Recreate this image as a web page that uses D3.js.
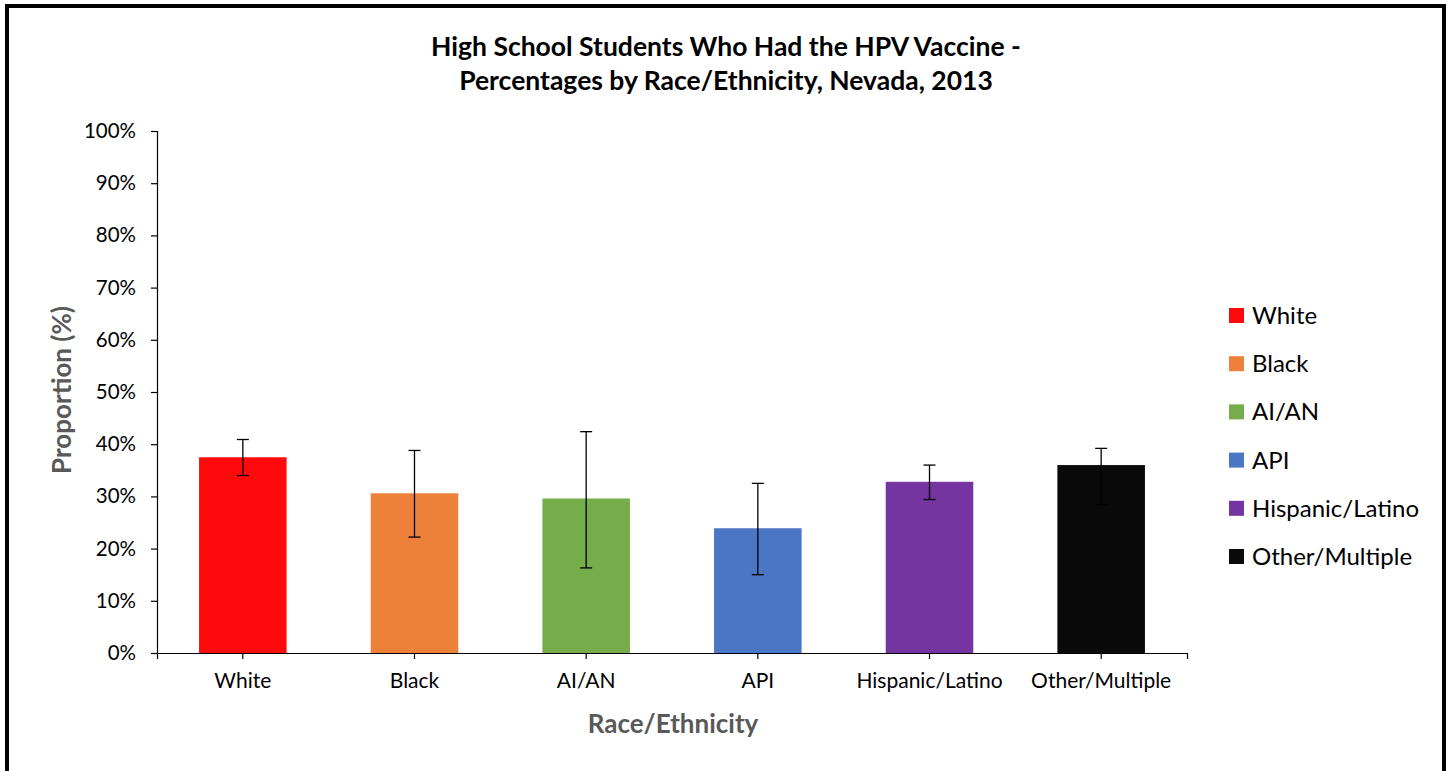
<!DOCTYPE html>
<html>
<head>
<meta charset="utf-8">
<script src="https://cdn.jsdelivr.net/npm/d3@7"></script>
<style>
  body { margin: 0; background: #fff; }
  svg { display: block; font-family: Lato, "Open Sans", sans-serif; }
</style>
</head>
<body>
<script>
// values
var categories = ["White", "Black", "AI/AN", "API", "Hispanic/Latino", "Other/Multiple"];
var values = [37.5, 30.6, 29.6, 23.9, 32.8, 36.0];
var lower = [34.0, 22.2, 16.3, 15.0, 29.4, 28.4];
var upper = [40.9, 38.8, 42.4, 32.5, 36.0, 39.2];
var colors = ["#ff0a0a", "#ed8139", "#76ad4a", "#4a76c4", "#7535a0", "#0a0a0a"];
var yTicks = [0, 10, 20, 30, 40, 50, 60, 70, 80, 90, 100];

var W = 1453, H = 771;
var svg = d3.select("body").append("svg")
  .attr("width", W)
  .attr("height", H);

// outer frame
svg.append("rect")
  .attr("x", 7).attr("y", 6)
  .attr("width", 1437).attr("height", 790)
  .attr("fill", "#fff")
  .attr("stroke", "#000")
  .attr("stroke-width", 4);

var x = d3.scaleBand()
  .domain(categories)
  .range([157, 1187])
  .paddingInner(0.49)
  .paddingOuter(0.245);

var y = d3.scaleLinear()
  .domain([0, 100])
  .range([653, 131]);

// title
svg.append("text")
  .attr("x", 726).attr("y", 56)
  .attr("text-anchor", "middle")
  .attr("font-size", 26.5).attr("font-weight", "bold")
  .text("High School Students Who Had the HPV Vaccine -");
svg.append("text")
  .attr("x", 726).attr("y", 90)
  .attr("text-anchor", "middle")
  .attr("font-size", 26.5).attr("font-weight", "bold")
  .text("Percentages by Race/Ethnicity, Nevada, 2013");

// bars
svg.append("g")
  .selectAll("rect")
  .data(categories)
  .enter()
  .append("rect")
  .attr("x", function(d) { return x(d); })
  .attr("y", function(d, i) { return y(values[i]); })
  .attr("width", x.bandwidth())
  .attr("height", function(d, i) { return y(0) - y(values[i]); })
  .attr("fill", function(d, i) { return colors[i]; });

// error bars
var err = svg.append("g")
  .attr("stroke", "#000")
  .attr("stroke-width", 1.3);
categories.forEach(function(d, i) {
  var cx = x(d) + x.bandwidth() / 2;
  err.append("line")
    .attr("x1", cx).attr("x2", cx)
    .attr("y1", y(lower[i])).attr("y2", y(upper[i]));
  [lower[i], upper[i]].forEach(function(v) {
    err.append("line")
      .attr("x1", cx - 6).attr("x2", cx + 6)
      .attr("y1", y(v)).attr("y2", y(v));
  });
});

// y axis
var yAxis = svg.append("g")
  .attr("transform", "translate(157,0)")
  .call(d3.axisLeft(y).tickValues(yTicks).tickSize(6).tickPadding(15)
    .tickFormat(function(d) { return d + "%"; }));
yAxis.selectAll("text").attr("font-size", 20.5).attr("fill", "#000")
  .attr("font-family", "Lato, 'Open Sans', sans-serif");
yAxis.selectAll("line, path").attr("stroke", "#000").attr("stroke-width", 1.2);

// x axis
var xAxis = svg.append("g")
  .attr("transform", "translate(0,653)")
  .call(d3.axisBottom(x).tickSize(6).tickPadding(14).tickSizeOuter(6));
xAxis.selectAll("text").attr("font-size", 21).attr("fill", "#000")
  .attr("font-family", "Lato, 'Open Sans', sans-serif");
xAxis.selectAll("line, path").attr("stroke", "#000").attr("stroke-width", 1.2);

// axis titles
svg.append("text")
  .attr("transform", "translate(71,390) rotate(-90)")
  .attr("text-anchor", "middle")
  .attr("font-size", 26).attr("font-weight", "bold")
  .attr("fill", "#595959")
  .text("Proportion (%)");
svg.append("text")
  .attr("x", 673).attr("y", 733)
  .attr("text-anchor", "middle")
  .attr("font-size", 26).attr("font-weight", "bold")
  .attr("fill", "#595959")
  .text("Race/Ethnicity");

// legend
var legend = svg.append("g")
  .selectAll("g")
  .data(categories)
  .enter()
  .append("g")
  .attr("transform", function(d, i) { return "translate(1229," + (308 + i * 48.2) + ")"; });
legend.append("rect")
  .attr("width", 15).attr("height", 15)
  .attr("fill", function(d, i) { return colors[i]; });
legend.append("text")
  .attr("x", 23).attr("y", 16)
  .attr("font-size", 24)
  .text(function(d) { return d; });
</script>
</body>
</html>
